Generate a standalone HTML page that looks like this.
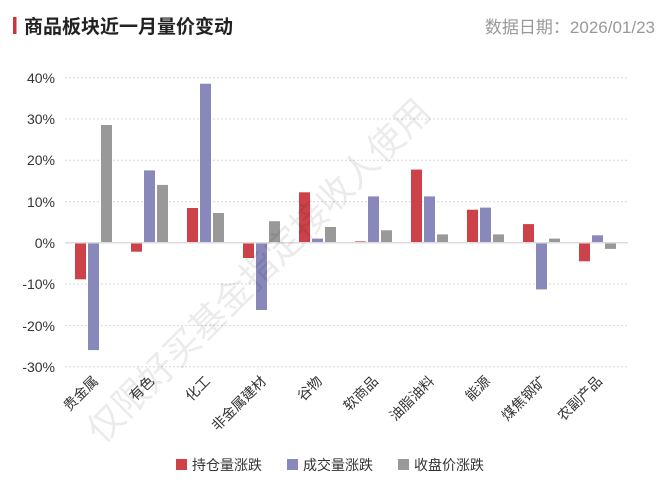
<!DOCTYPE html>
<html><head><meta charset="utf-8"><style>
html,body{margin:0;padding:0;background:#fff;}
svg{display:block;font-family:"Liberation Sans","Noto Sans CJK SC",sans-serif;}
</style></head><body>
<svg width="666" height="503" viewBox="0 0 666 503" xmlns="http://www.w3.org/2000/svg">
<rect x="13" y="17" width="3.5" height="17" fill="#d0323c"/>
<text x="24" y="33" font-size="19" font-weight="bold" fill="#222">商品板块近一月量价变动</text>
<text x="655" y="33" font-size="17" fill="#999" text-anchor="end">数据日期：2026/01/23</text>
<g stroke="#d8d8d8" stroke-width="1" stroke-dasharray="2,2">
<line x1="65" x2="628" y1="77.7" y2="77.7"/>
<line x1="65" x2="628" y1="119" y2="119"/>
<line x1="65" x2="628" y1="160.3" y2="160.3"/>
<line x1="65" x2="628" y1="201.6" y2="201.6"/>
<line x1="65" x2="628" y1="284" y2="284"/>
<line x1="65" x2="628" y1="325.4" y2="325.4"/>
<line x1="65" x2="628" y1="366.7" y2="366.7"/>
</g>
<g font-size="14" fill="#333" text-anchor="end">
<text x="55" y="83">40%</text><text x="55" y="124">30%</text><text x="55" y="165">20%</text>
<text x="55" y="207">10%</text><text x="55" y="248">0%</text><text x="55" y="289">-10%</text>
<text x="55" y="331">-20%</text><text x="55" y="372">-30%</text>
</g>
<g id="bars">
<rect x="75" y="242.7" width="11" height="36.6" fill="#cc4248"/>
<rect x="88" y="242.7" width="11" height="107.4" fill="#8888bb"/>
<rect x="101" y="125" width="11" height="117.7" fill="#999"/>

<rect x="131" y="242.7" width="11" height="9" fill="#cc4248"/>
<rect x="144" y="170.4" width="11" height="72.3" fill="#8888bb"/>
<rect x="157" y="184.9" width="11" height="57.8" fill="#999"/>

<rect x="187" y="208" width="11" height="34.7" fill="#cc4248"/>
<rect x="200" y="83.7" width="11" height="159" fill="#8888bb"/>
<rect x="213" y="213" width="11" height="29.7" fill="#999"/>

<rect x="243" y="242.7" width="11" height="15.3" fill="#cc4248"/>
<rect x="256" y="242.7" width="11" height="67.3" fill="#8888bb"/>
<rect x="269" y="221.2" width="11" height="21.5" fill="#999"/>

<rect x="299" y="192.3" width="11" height="50.4" fill="#cc4248"/>
<rect x="312" y="238.6" width="11" height="4.1" fill="#8888bb"/>
<rect x="325" y="227" width="11" height="15.7" fill="#999"/>

<rect x="355" y="241.4" width="11" height="1.3" fill="#cc4248"/>
<rect x="368" y="196.4" width="11" height="46.3" fill="#8888bb"/>
<rect x="381" y="230.3" width="11" height="12.4" fill="#999"/>

<rect x="411" y="169.6" width="11" height="73.1" fill="#cc4248"/>
<rect x="424" y="196.4" width="11" height="46.3" fill="#8888bb"/>
<rect x="437" y="234.4" width="11" height="8.3" fill="#999"/>

<rect x="467" y="209.7" width="11" height="33" fill="#cc4248"/>
<rect x="480" y="207.6" width="11" height="35.1" fill="#8888bb"/>
<rect x="493" y="234.4" width="11" height="8.3" fill="#999"/>

<rect x="523" y="224.1" width="11" height="18.6" fill="#cc4248"/>
<rect x="536" y="242.7" width="11" height="46.7" fill="#8888bb"/>
<rect x="549" y="238.6" width="11" height="4.1" fill="#999"/>

<rect x="579" y="242.7" width="11" height="18.6" fill="#cc4248"/>
<rect x="592" y="235.3" width="11" height="7.4" fill="#8888bb"/>
<rect x="605" y="242.7" width="11" height="6.2" fill="#999"/>
</g>
<line x1="65" x2="628" y1="242.7" y2="242.7" stroke="#ddd" stroke-width="1.5"/>
<g font-size="14" fill="#333" text-anchor="end">
<text transform="translate(99,382) rotate(-45)">贵金属</text>
<text transform="translate(155,382) rotate(-45)">有色</text>
<text transform="translate(211,382) rotate(-45)">化工</text>
<text transform="translate(267,382) rotate(-45)">非金属建材</text>
<text transform="translate(323,382) rotate(-45)">谷物</text>
<text transform="translate(379,382) rotate(-45)">软商品</text>
<text transform="translate(435,382) rotate(-45)">油脂油料</text>
<text transform="translate(491,382) rotate(-45)">能源</text>
<text transform="translate(547,382) rotate(-45)">煤焦钢矿</text>
<text transform="translate(603,382) rotate(-45)">农副产品</text>
</g>
<text transform="translate(102,445) rotate(-45)" font-size="36" fill="#000" fill-opacity="0.08">仅限好买基金指定接收人使用</text>
<g font-size="14" fill="#333">
<rect x="176" y="459" width="11" height="11" fill="#cc4248"/><text x="192" y="470">持仓量涨跌</text>
<rect x="287" y="459" width="11" height="11" fill="#8888bb"/><text x="303" y="470">成交量涨跌</text>
<rect x="398" y="459" width="11" height="11" fill="#999"/><text x="414" y="470">收盘价涨跌</text>
</g>
</svg>
</body></html>
